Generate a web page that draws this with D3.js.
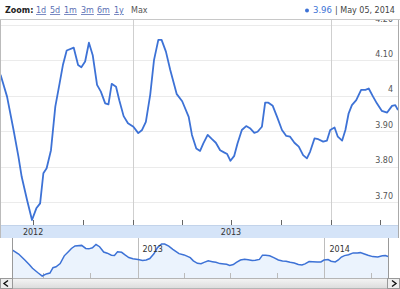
<!DOCTYPE html>
<html lang="en">
<head>
<meta charset="utf-8">
<title>Price chart</title>
<script src="https://d3js.org/d3.v7.min.js"></script>
<style>
  body { margin: 0; background: #fff; }
  text { font-family: "DejaVu Sans", sans-serif; }
</style>
</head>
<body>
<script>
// weekly closes
var dates = ["2012-05-02","2012-05-14","2012-05-26","2012-06-04","2012-06-10","2012-06-20","2012-06-29",
  "2012-07-07","2012-07-14","2012-07-20","2012-07-26","2012-08-03","2012-08-11","2012-08-19","2012-08-25",
  "2012-09-01","2012-09-14","2012-09-22","2012-09-28","2012-10-05","2012-10-12","2012-10-19","2012-10-27",
  "2012-11-03","2012-11-11","2012-11-17","2012-11-23","2012-12-01","2012-12-07","2012-12-15","2012-12-23",
  "2013-01-02","2013-01-11","2013-01-18","2013-01-25","2013-02-02","2013-02-09","2013-02-17","2013-02-23",
  "2013-03-03","2013-03-11","2013-03-23","2013-04-02","2013-04-14","2013-04-20","2013-04-28","2013-05-05",
  "2013-05-11","2013-05-19","2013-05-27","2013-06-03","2013-06-11","2013-06-19","2013-06-24","2013-06-30",
  "2013-07-07","2013-07-13","2013-07-21","2013-07-29","2013-08-05","2013-08-13","2013-08-19","2013-08-27",
  "2013-09-02","2013-09-08","2013-09-16","2013-09-24","2013-10-03","2013-10-11","2013-10-18","2013-10-26",
  "2013-11-03","2013-11-11","2013-11-18","2013-11-24","2013-12-02","2013-12-09","2013-12-18","2013-12-25",
  "2013-12-31","2014-01-08","2014-01-14","2014-01-22","2014-01-28","2014-02-03","2014-02-09","2014-02-17",
  "2014-02-26","2014-03-06","2014-03-12","2014-03-20","2014-03-27","2014-04-05","2014-04-15","2014-04-24",
  "2014-04-30","2014-05-05"];
var closes = [4.060,3.998,3.904,3.829,3.772,3.706,3.650,
  3.683,3.697,3.782,3.796,3.847,3.970,4.036,4.087,
  4.128,4.136,4.087,4.081,4.097,4.150,4.115,4.031,
  4.012,3.979,3.976,4.034,4.026,3.988,3.943,3.923,
  3.913,3.895,3.904,3.927,4.003,4.101,4.158,4.158,
  4.125,4.073,4.005,3.985,3.941,3.890,3.852,3.845,
  3.866,3.890,3.878,3.868,3.847,3.840,3.836,3.817,
  3.831,3.866,3.904,3.915,3.909,3.896,3.899,3.913,
  3.981,3.981,3.972,3.941,3.904,3.887,3.885,3.868,
  3.857,3.833,3.824,3.843,3.880,3.878,3.871,3.874,
  3.904,3.911,3.885,3.874,3.904,3.951,3.974,3.988,
  4.017,4.017,4.021,3.998,3.979,3.958,3.953,3.972,
  3.974,3.960];
var yTicks = [3.70, 3.80, 3.90, 4.00, 4.10, 4.20];
var yTickLabels = ["3.70", "3.80", "3.90", "4", "4.10", "4.20"];
var yearLabels = ["2012", "2013"];
var navYears = ["2013", "2014"];
var zoomLinks = ["1d", "5d", "1m", "3m", "6m", "1y"];

var W = 400, H = 289;
var blue = "#3d72d6";
var parse = d3.timeParse("%Y-%m-%d");
var data = dates.map(function (d, i) { return { date: parse(d), v: closes[i] }; });

var svg = d3.select("body").append("svg")
  .attr("width", W).attr("height", H);

svg.append("rect").attr("width", W).attr("height", H).attr("fill", "#fff");

// main chart
var x = d3.scaleTime()
  .domain([parse("2012-05-01"), parse("2014-05-05")])
  .range([0, 398]);
var y = d3.scaleLinear().domain([3.70, 4.20]).range([202.3, 25]);

svg.append("defs").append("clipPath").attr("id", "plot")
  .append("rect").attr("x", 0).attr("y", 20).attr("width", 398).attr("height", 205);

svg.selectAll(".grid").data(yTicks).enter().append("line")
  .attr("x1", 0).attr("x2", 398)
  .attr("y1", function (d) { return Math.round(y(d)) + 0.5; })
  .attr("y2", function (d) { return Math.round(y(d)) + 0.5; })
  .attr("stroke", "#ebebeb");

var years = [parse("2013-01-01"), parse("2014-01-01")];
svg.selectAll(".yr").data(years).enter().append("line")
  .attr("x1", function (d) { return Math.round(x(d)) + 0.5; })
  .attr("x2", function (d) { return Math.round(x(d)) + 0.5; })
  .attr("y1", 20).attr("y2", 225)
  .attr("stroke", "#cfcfcf");

svg.selectAll(".ylab").data(yTicks).enter().append("text")
  .attr("x", 393)
  .attr("y", function (d) { return y(d) - 3.5; })
  .attr("text-anchor", "end")
  .attr("font-size", 8)
  .attr("fill", "#555")
  .text(function (d, i) { return yTickLabels[i]; });

var line = d3.line()
  .x(function (d) { return x(d.date); })
  .y(function (d) { return y(d.v); });

svg.append("path").datum(data)
  .attr("clip-path", "url(#plot)")
  .attr("d", line)
  .attr("fill", "none")
  .attr("stroke", blue)
  .attr("stroke-width", 1.8)
  .attr("stroke-linejoin", "round");

// quarter ticks along bottom of main chart
var quarters = d3.timeMonth.every(3).range(parse("2012-05-01"), parse("2014-05-05"));
svg.selectAll(".qt").data(quarters).enter().append("line")
  .attr("x1", function (d) { return Math.round(x(d)) + 0.5; })
  .attr("x2", function (d) { return Math.round(x(d)) + 0.5; })
  .attr("y1", 220).attr("y2", 225)
  .attr("stroke", "#666");

// year band
svg.append("rect").attr("x", 0).attr("y", 225).attr("width", 398).attr("height", 13)
  .attr("fill", "#d5e4f8");
svg.append("line").attr("x1", 0).attr("x2", 398).attr("y1", 225.5).attr("y2", 225.5)
  .attr("stroke", "#c2d3ea");
svg.selectAll(".ylabel").data(yearLabels).enter().append("text")
  .attr("x", function (d) { return x(parse(d + "-07-01")); })
  .attr("y", 235)
  .attr("text-anchor", "middle")
  .attr("font-size", 8)
  .attr("fill", "#333")
  .text(function (d) { return d; });

// navigator
var nx = d3.scaleTime().domain(x.domain()).range([12, 388]);
var ny = d3.scaleLinear().domain([3.65, 4.158]).range([276, 244]);

var area = d3.area()
  .x(function (d) { return nx(d.date); })
  .y0(278)
  .y1(function (d) { return ny(d.v); });
svg.append("path").datum(data).attr("d", area).attr("fill", "#ebf3fd");

svg.selectAll(".nq").data(quarters).enter().append("line")
  .attr("x1", function (d) { return Math.round(nx(d)) + 0.5; })
  .attr("x2", function (d) { return Math.round(nx(d)) + 0.5; })
  .attr("y1", 273).attr("y2", 278)
  .attr("stroke", "#bbb");

svg.selectAll(".ny").data(navYears).enter().append("line")
  .attr("x1", function (d) { return Math.round(nx(parse(d + "-01-01"))) + 0.5; })
  .attr("x2", function (d) { return Math.round(nx(parse(d + "-01-01"))) + 0.5; })
  .attr("y1", 238).attr("y2", 278)
  .attr("stroke", "#bdbdbd");

var nline = d3.line()
  .x(function (d) { return nx(d.date); })
  .y(function (d) { return ny(d.v); });
svg.append("path").datum(data).attr("d", nline)
  .attr("fill", "none").attr("stroke", blue).attr("stroke-width", 1.5);

svg.selectAll(".nylab").data(navYears).enter().append("text")
  .attr("x", function (d) { return nx(parse(d + "-01-01")) + 5; })
  .attr("y", 252)
  .attr("font-size", 8)
  .attr("fill", "#333")
  .text(function (d) { return d; });

svg.append("line").attr("x1", 12.5).attr("x2", 12.5).attr("y1", 238).attr("y2", 278).attr("stroke", "#999");
svg.append("line").attr("x1", 388.5).attr("x2", 388.5).attr("y1", 238).attr("y2", 278).attr("stroke", "#999");

// scrollbar
var grad = svg.select("defs").append("linearGradient").attr("id", "sb")
  .attr("x1", 0).attr("y1", 0).attr("x2", 0).attr("y2", 1);
grad.append("stop").attr("offset", "0%").attr("stop-color", "#f4f4f4");
grad.append("stop").attr("offset", "100%").attr("stop-color", "#dcdcdc");
svg.append("rect").attr("x", 0.5).attr("y", 278.5).attr("width", 399).attr("height", 10)
  .attr("fill", "url(#sb)").attr("stroke", "#b5b5b5");
svg.append("rect").attr("x", 0.5).attr("y", 278.5).attr("width", 12).attr("height", 10)
  .attr("fill", "#eee").attr("stroke", "#999");
svg.append("rect").attr("x", 387.5).attr("y", 278.5).attr("width", 12).attr("height", 10)
  .attr("fill", "#eee").attr("stroke", "#999");
svg.append("path").attr("d", "M8,280.5 L4,283.5 L8,286.5").attr("fill", "none").attr("stroke", "#111").attr("stroke-width", 1.4);
svg.append("path").attr("d", "M392,280.5 L396,283.5 L392,286.5").attr("fill", "none").attr("stroke", "#111").attr("stroke-width", 1.4);

// outer borders of the main chart
svg.append("line").attr("x1", 0.5).attr("x2", 0.5).attr("y1", 20).attr("y2", 238).attr("stroke", "#bbb");
svg.append("line").attr("x1", 398.5).attr("x2", 398.5).attr("y1", 20).attr("y2", 238).attr("stroke", "#aaa");

// top bar
svg.append("rect").attr("x", 0).attr("y", 0).attr("width", W).attr("height", 19.5).attr("fill", "#fff");
svg.append("line").attr("x1", 0).attr("x2", W).attr("y1", 19.5).attr("y2", 19.5).attr("stroke", "#c8c8c8");

svg.append("text").attr("x", 5).attr("y", 13)
  .attr("font-size", 8).attr("font-weight", "bold").attr("fill", "#222")
  .text("Zoom:");
var linkX = [36, 50, 64, 81, 97, 114];
svg.selectAll(".zl").data(zoomLinks).enter().append("text")
  .attr("x", function (d, i) { return linkX[i]; })
  .attr("y", 13)
  .attr("font-size", 8)
  .attr("fill", "#5a6fb4")
  .attr("text-decoration", "underline")
  .text(function (d) { return d; });
svg.append("text").attr("x", 131).attr("y", 13)
  .attr("font-size", 8).attr("fill", "#555").text("Max");

var last = data[data.length - 1];
svg.append("circle").attr("cx", 307).attr("cy", 10.5).attr("r", 2).attr("fill", blue);
svg.append("text").attr("x", 313).attr("y", 13)
  .attr("font-size", 8.5).attr("fill", blue)
  .text(last.v.toFixed(2));
svg.append("text").attr("x", 335).attr("y", 13)
  .attr("font-size", 8).attr("fill", "#444")
  .text("| " + d3.timeFormat("%b %d, %Y")(last.date));
</script>
</body>
</html>
